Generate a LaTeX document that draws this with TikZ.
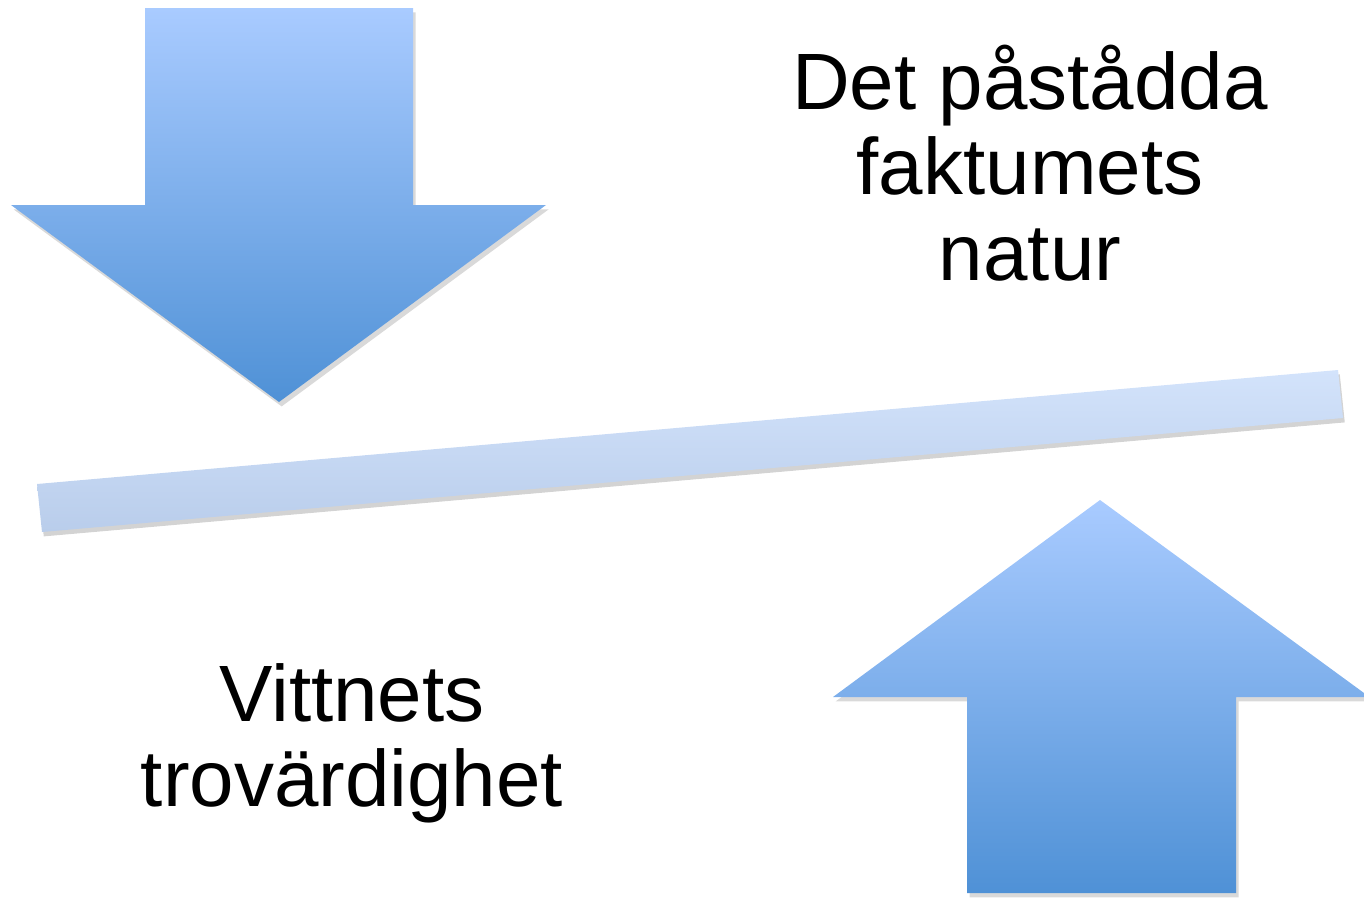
\documentclass[tikz,border=0pt]{standalone}
\usepackage{fontspec}
\setmainfont{Liberation Sans}
\usetikzlibrary{shadows}
\definecolor{arrowtop}{HTML}{A9CBFF}
\definecolor{arrowbot}{HTML}{4F91D6}
\definecolor{bartop}{HTML}{D3E3FB}
\definecolor{barbot}{HTML}{B9CDEB}

\tikzset{
  bigarrow/.style={top color=arrowtop, bottom color=arrowbot, draw=none,
    drop shadow={shadow xshift=1.5pt, shadow yshift=-2.5pt, opacity=0.3}},
  beam/.style={top color=bartop, bottom color=barbot, draw=none,
    drop shadow={shadow xshift=1pt, shadow yshift=-2.5pt, opacity=0.35}},
  label/.style={align=center, font=\fontsize{45.5}{48.5}\selectfont, inner sep=0pt}
}

\begin{document}
\begin{tikzpicture}[x=0.02cm, y=-0.02cm]
\useasboundingbox (0,0) rectangle (1364,899);

% Draw the downward arrow
\shade[bigarrow] (145,8) -- (413,8) -- (413,205) -- (546,205) -- (279,402)
    -- (11,205) -- (145,205) -- cycle;

% Draw the upward arrow
\shade[bigarrow] (967,893) -- (967,697) -- (833,697) -- (1100,500)
    -- (1364,693) -- (1364,697) -- (1236,697) -- (1236,893) -- cycle;

% Draw the tilted beam
\shade[beam] (37,484) -- (1338,370) -- (1343,418) -- (42,532) -- cycle;

% Labels
\node[label] (fact) at (1030,163) {Det påstådda\\faktumets\\natur};
\node[label] (witness) at (352,743) {Vittnets\\trovärdighet};
\end{tikzpicture}
\end{document}
